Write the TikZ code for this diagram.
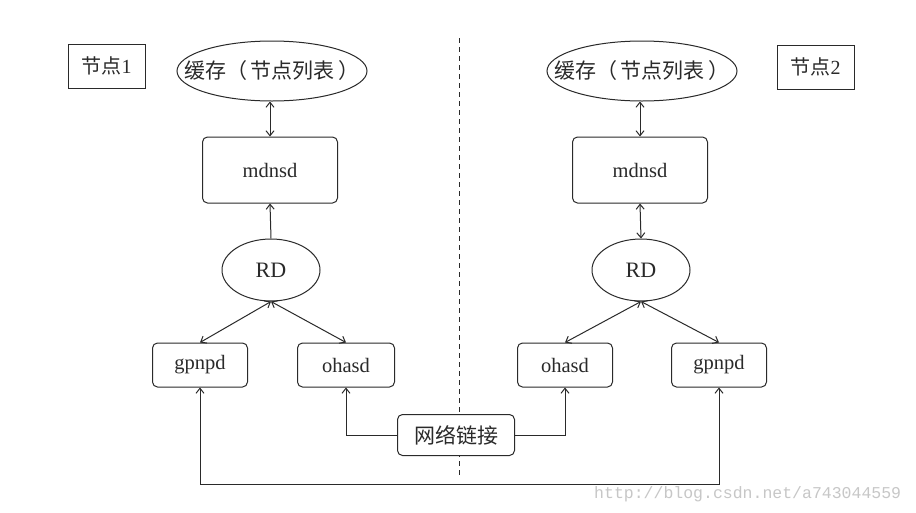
\documentclass[tikz,border=0pt]{standalone}
\usepackage{fontspec}
\setmainfont{Liberation Serif}
\newfontfamily\cjk{Noto Sans CJK SC}
\newfontfamily\wmfont{Liberation Mono}
\usetikzlibrary{shapes.geometric,arrows.meta}
\definecolor{ink}{HTML}{2A2A2A}
\begin{document}
\begin{tikzpicture}[x=1pt,y=-1pt,
  line/.style={draw=ink, line width=1pt},
  tip/.tip={Straight Barb[length=5pt,width=8pt]},
  arr/.style={line, -tip},
  darr/.style={line, tip-tip},
  rbox/.style={line, rounded corners=5pt, fill=white, inner sep=0pt, text=ink, font=\fontsize{20.5}{22}\selectfont},
  ell/.style={line, ellipse, fill=white, inner sep=0pt, text=ink},
  tagbox/.style={line, inner sep=0pt, minimum width=77pt, minimum height=44pt, text=ink, font=\fontsize{20}{22}\selectfont},
  small/.style={minimum width=95pt, minimum height=44pt},
  big/.style={minimum width=135pt, minimum height=66pt}
]
\useasboundingbox[fill=white] (0,0) rectangle (916,512);

% dashed divider
\coordinate (dtop) at (459,38);
\coordinate (dbot) at (459,478);
\draw[line, dash pattern=on 5pt off 4pt] (dtop) -- (dbot);

% tags
\node[tagbox] (tag1) at (106.5,66) {{\cjk 节点}1};
\node[tagbox] (tag2) at (815.5,67) {{\cjk 节点}2};

% caches
\node[ell, minimum width=190pt, minimum height=60pt, font=\cjk\fontsize{21}{22}\selectfont] (cache1) at (272,71) {\makebox[0pt]{缓存（\,节点列表\,）}};
\node[ell, minimum width=190pt, minimum height=60pt, font=\cjk\fontsize{21}{22}\selectfont] (cache2) at (642,71) {\makebox[0pt]{缓存（\,节点列表\,）}};

% mdnsd
\node[rbox, big] (mdnsd1) at (270,170) {mdnsd};
\node[rbox, big] (mdnsd2) at (640,170) {mdnsd};

% RD
\node[ell, minimum width=98pt, minimum height=62pt, font=\fontsize{22}{24}\selectfont] (rd1) at (271,270) {RD};
\node[ell, minimum width=98pt, minimum height=62pt, font=\fontsize{22}{24}\selectfont] (rd2) at (641,270) {RD};

% leaf boxes
\node[rbox, small] (gp1) at (200,365) {gpnpd};
\node[rbox, small, minimum width=97pt] (oh1) at (346,365) {ohasd};
\node[rbox, small] (oh2) at (565,365) {ohasd};
\node[rbox, small] (gp2) at (719,365) {gpnpd};

% network
\node[rbox, minimum width=117pt, minimum height=41pt, font=\cjk\fontsize{21}{24}\selectfont] (net) at (456,435) {网络链接};

% connectors
\draw[darr] (mdnsd1.north |- cache1.south) -- (mdnsd1.north);
\draw[darr] (mdnsd2.north |- cache2.south) -- (mdnsd2.north);
\draw[arr] (rd1.north) -- (mdnsd1.south);
\draw[darr] (mdnsd2.south) -- (rd2.north);
\draw[darr] (rd1.south) -- (gp1.north);
\draw[darr] (rd1.south) -- (oh1.north);
\draw[darr] (rd2.south) -- (oh2.north);
\draw[darr] (rd2.south) -- (gp2.north);
\draw[arr] (net.west) -| (oh1.south);
\draw[arr] (net.east) -| (oh2.south);
\coordinate (bl) at (200,484);
\coordinate (br) at (719,484);
\draw[darr] (gp1.south) -- (bl) -- (br) -- (gp2.south);

% watermark
\node[anchor=west, inner sep=0pt, text=black!22, font=\wmfont\fontsize{16.5}{18}\selectfont] (wm) at (594,494) {http://blog.csdn.net/a743044559};
\end{tikzpicture}
\end{document}
